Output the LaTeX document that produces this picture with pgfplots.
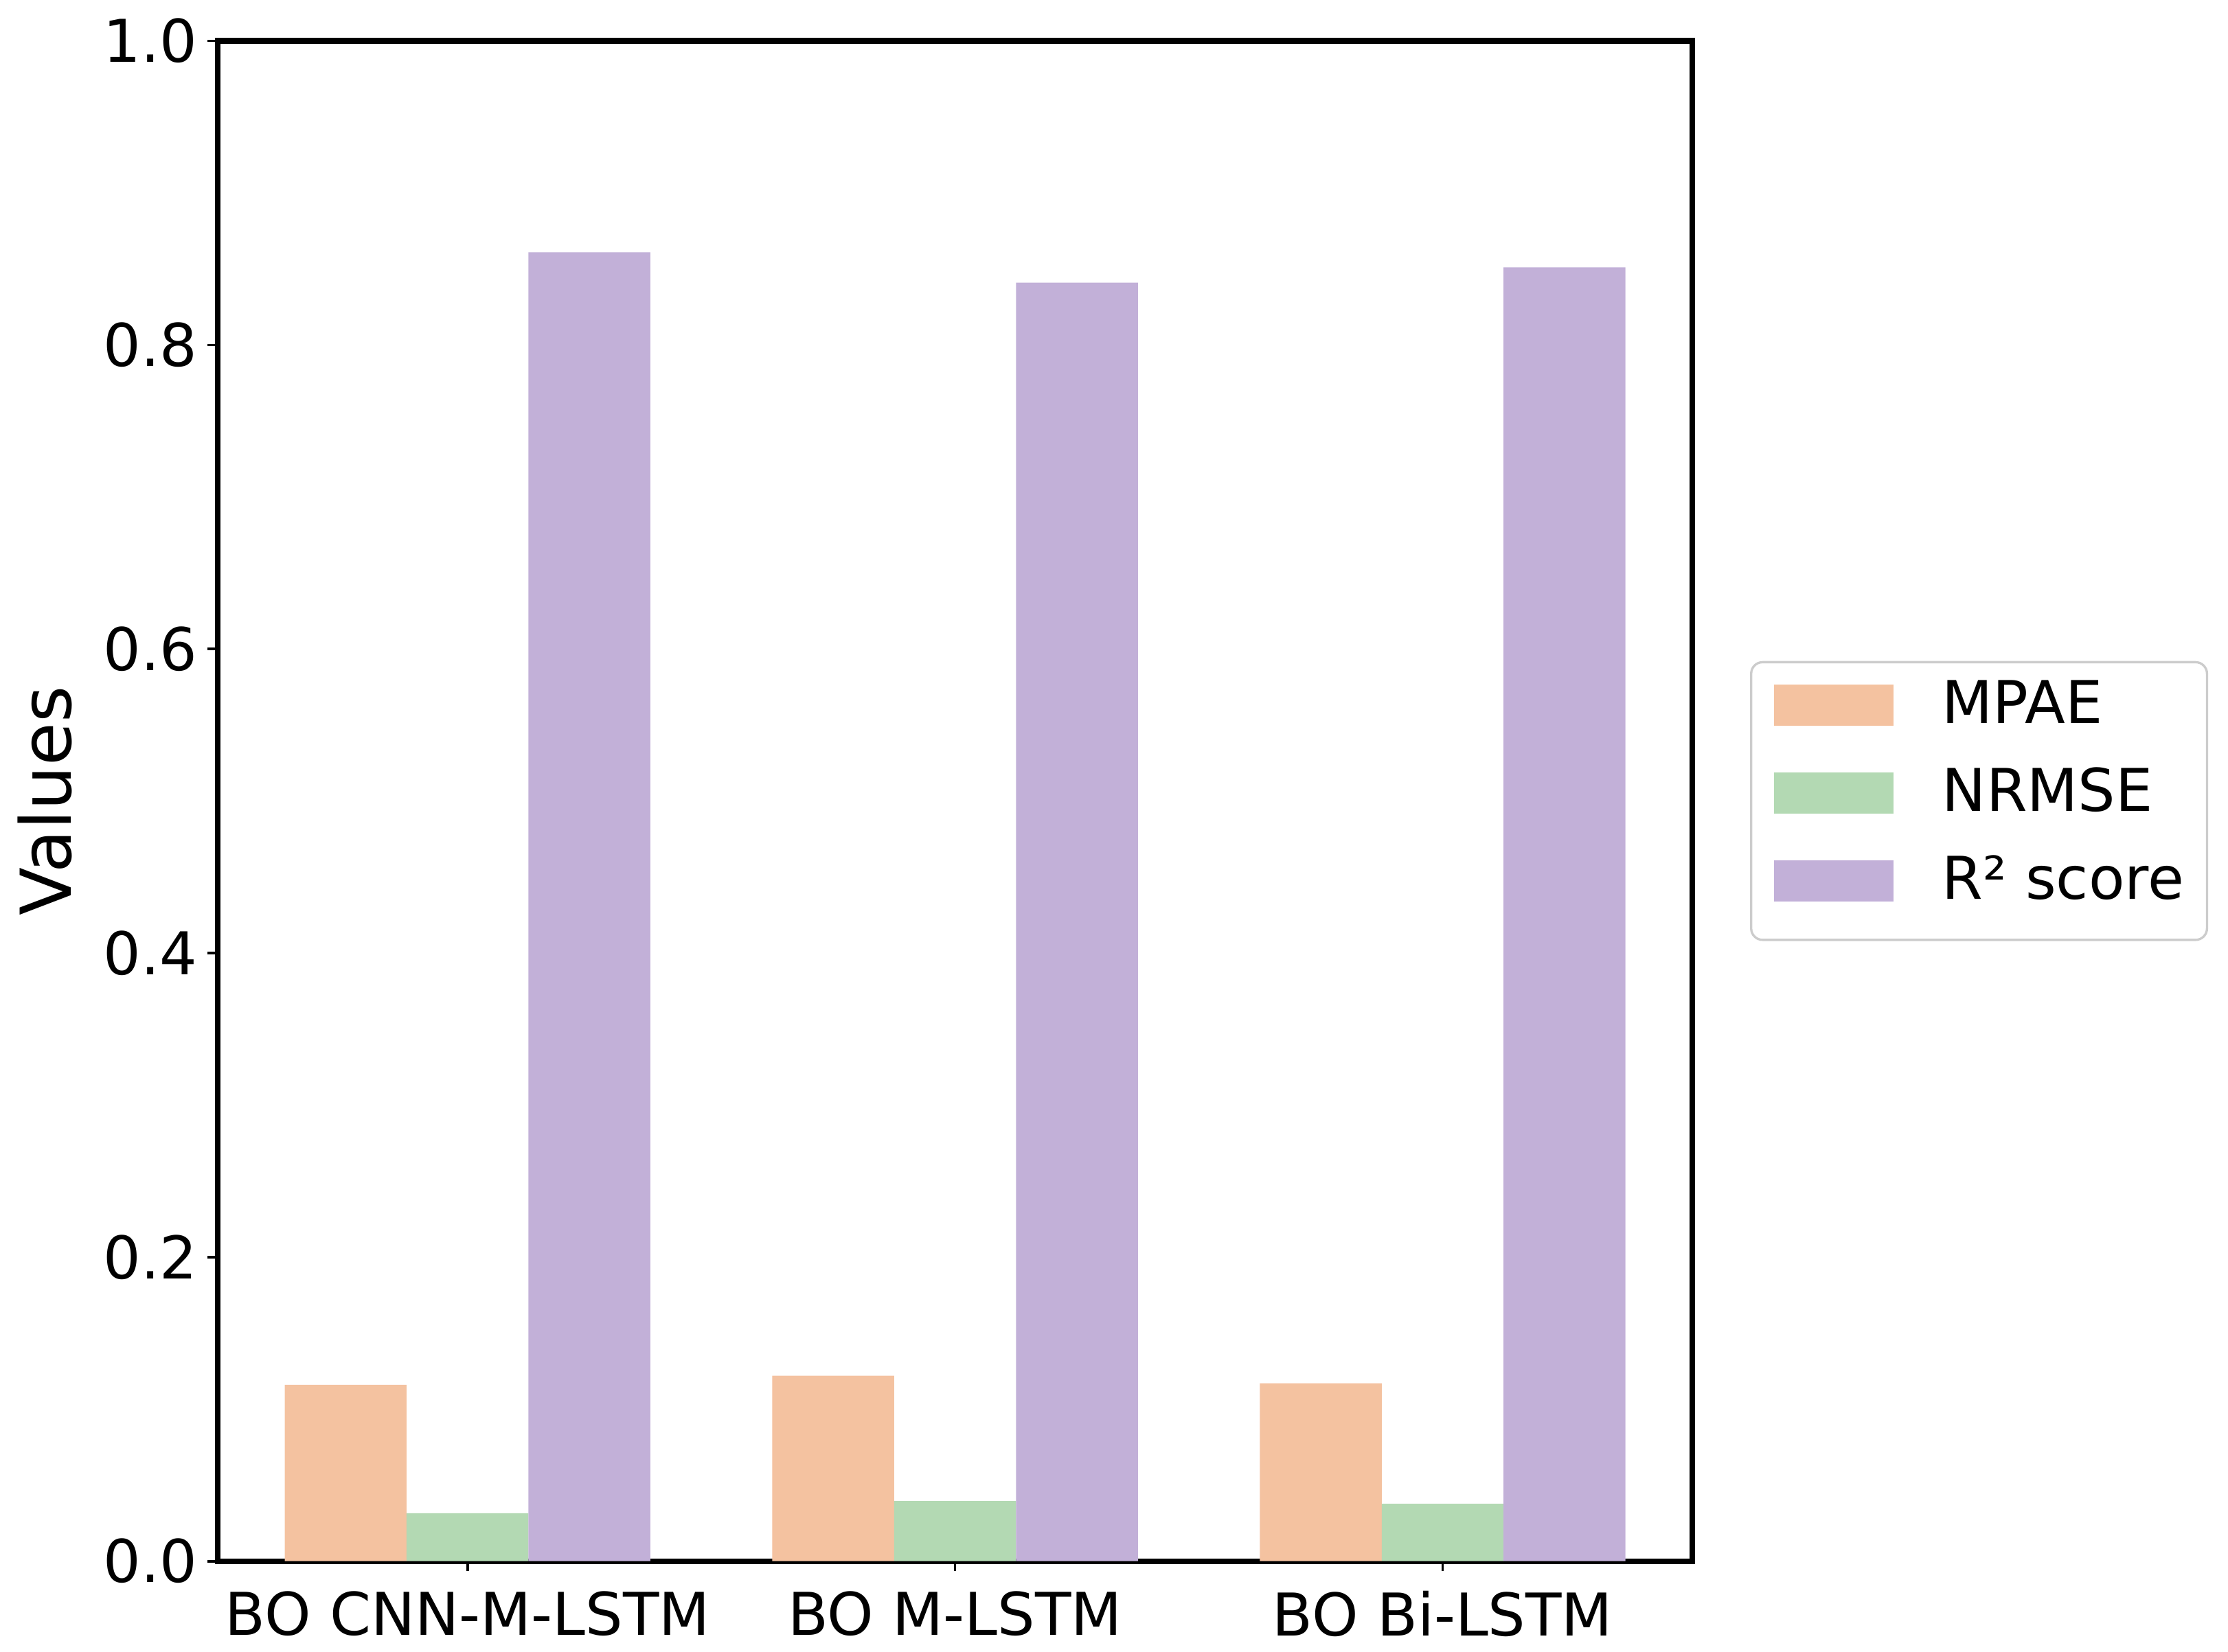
\documentclass[border=0pt]{standalone}
\usepackage{pgfplots}
\pgfplotsset{compat=1.18}
\usepackage{fontspec}
\setmainfont{DejaVu Sans}

\definecolor{cMPAE}{RGB}{244,194,160}
\definecolor{cNRMSE}{RGB}{179,217,179}
\definecolor{cRtwo}{RGB}{194,176,216}

\pgfplotsset{
    sqlegend/.style={legend image code/.code={\fill[##1, sharp corners] (0pt,-4.2pt) rectangle (41.7pt,10.2pt);}},
    metricbar/.style={ybar, bar width=0.25, bar shift=0pt, draw=none, sqlegend},
}

\begin{document}
\begin{tikzpicture}
\begin{axis}[
    at={(0,0)}, anchor=south west,
    scale only axis,
    width=515pt, height=531pt,
    xmin=-0.5125, xmax=2.5125,
    ymin=0, ymax=1,
    xtick={0,1,2},
    xticklabels={BO CNN-M-LSTM, BO M-LSTM, BO Bi-LSTM},
    ytick={0,0.2,0.4,0.6,0.8,1},
    yticklabel style={/pgf/number format/.cd, fixed, fixed zerofill, precision=1},
    xticklabel style={yshift=-3.5pt},
    /pgf/number format/assume math mode=true,
    tick label style={font=\fontsize{20.6}{24}\selectfont},
    tickpos=left,
    tick align=outside,
    major tick length=3.5pt,
    tick style={black, line width=0.9pt},
    axis line style={line width=2pt},
    every axis y label/.style={at={(axis description cs:-0.117,0.5)}, rotate=90, anchor=center},
    ylabel={Values},
    ylabel style={font=\fontsize{24.5}{29}\selectfont},
    legend cell align=left,
    legend style={
        at={(1.039,0.5)}, anchor=west,
        draw=black!20, line width=0.8pt, rounded corners=4pt,
        inner xsep=8pt, inner ysep=7.7pt,
        row sep=10.5pt,
        font=\fontsize{20.6}{24}\selectfont,
        nodes={inner sep=0pt, text height=13.5pt, text depth=6.5pt},
        /tikz/column 1/.style={column sep=17pt},
    },
]
\addplot[metricbar, fill=cMPAE]
    coordinates {(-0.25,0.116) (0.75,0.122) (1.75,0.117)};
\addlegendentry{MPAE}
\addplot[metricbar, fill=cNRMSE]
    coordinates {(0,0.0315) (1,0.0396) (2,0.0378)};
\addlegendentry{NRMSE}
\addplot[metricbar, fill=cRtwo]
    coordinates {(0.25,0.861) (1.25,0.841) (2.25,0.851)};
\addlegendentry{R² score}
\end{axis}
\path[use as bounding box] (-76pt,-31.7pt) rectangle (702pt,545.3pt);
\end{tikzpicture}
\end{document}
